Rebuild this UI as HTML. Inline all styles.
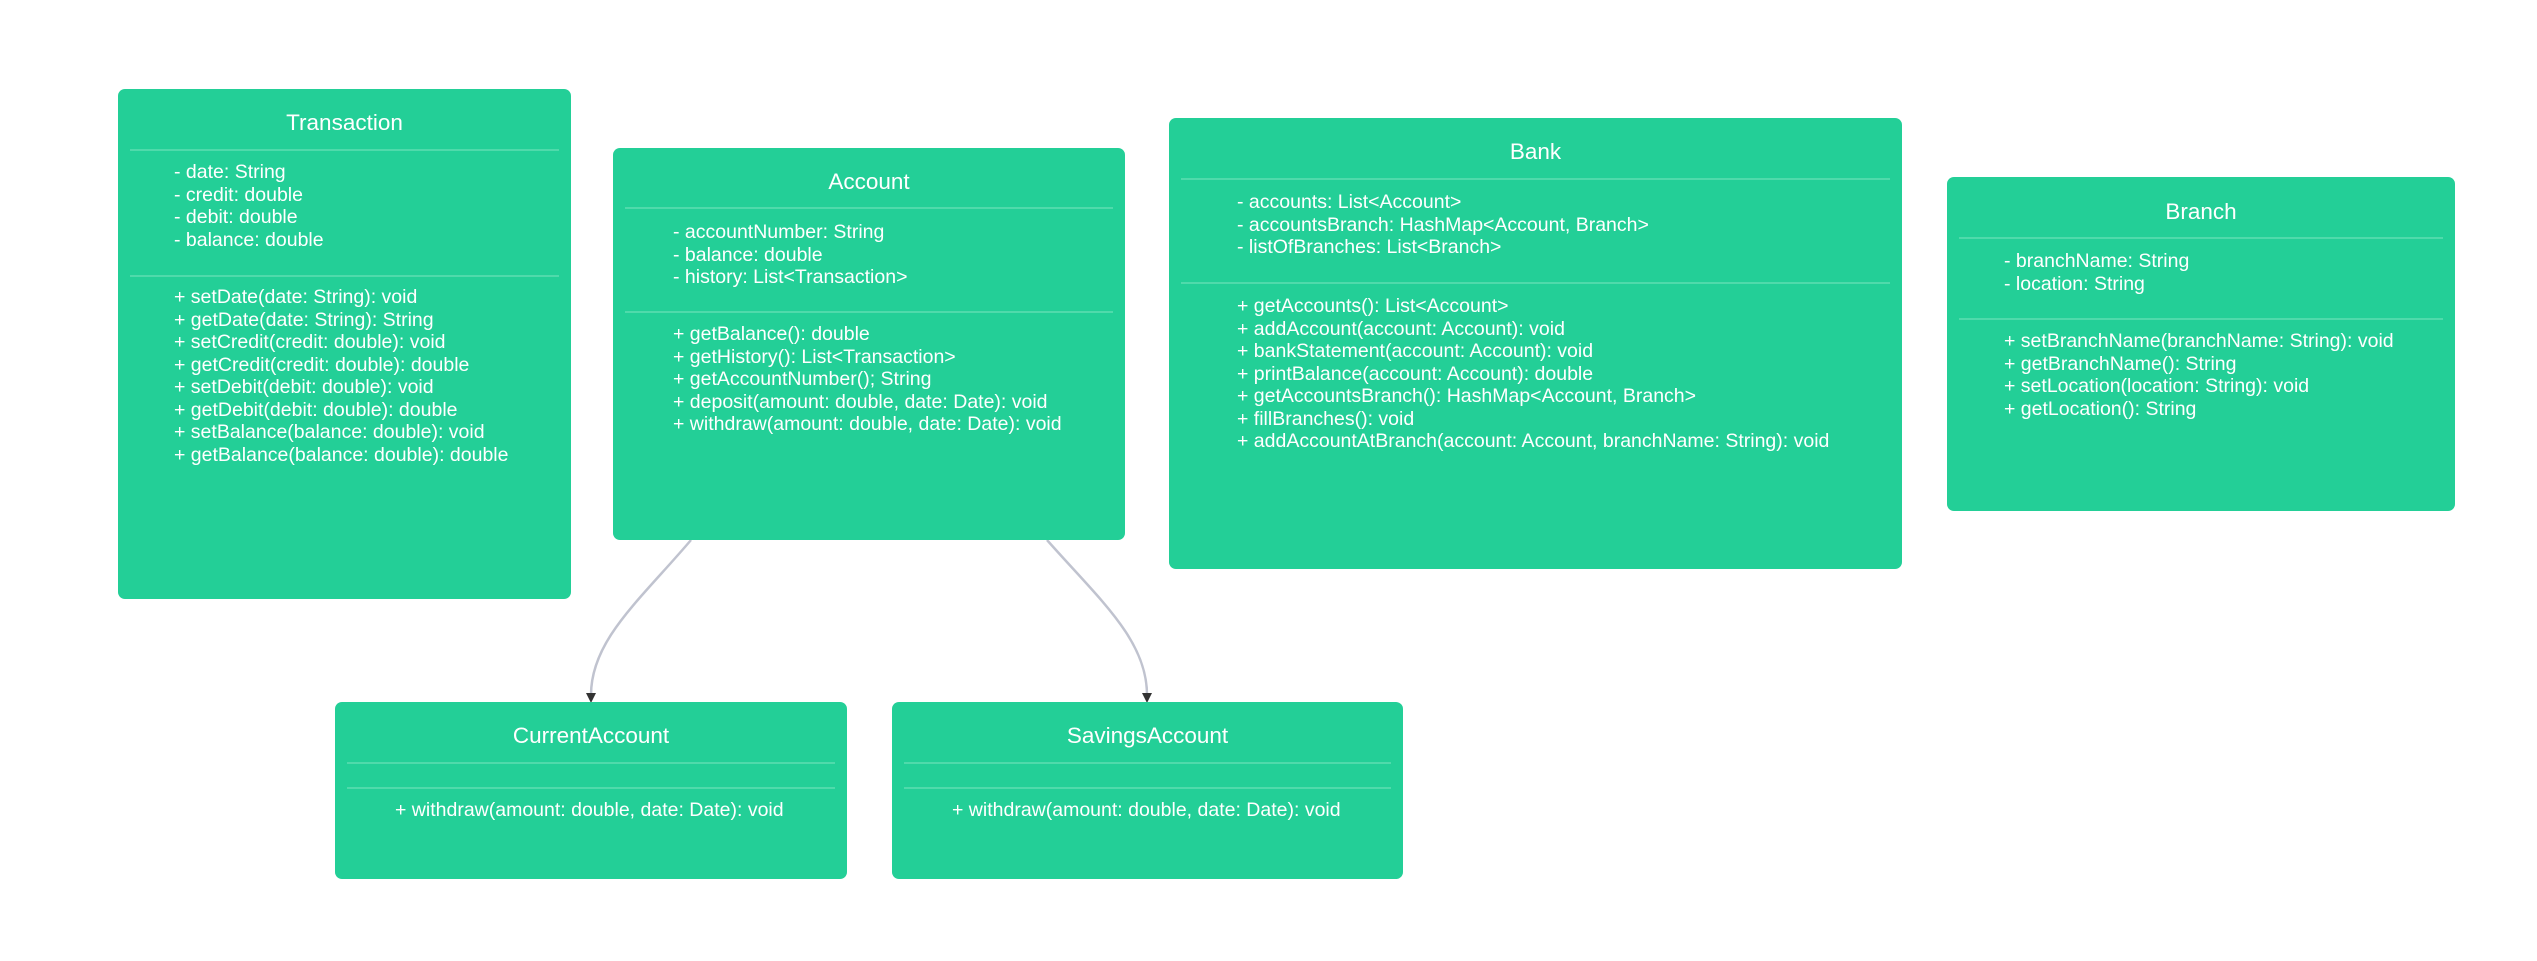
<!DOCTYPE html>
<html><head><meta charset="utf-8"><style>
body{margin:0;width:2537px;height:961px;background:#fff;position:relative;overflow:hidden;font-family:"Liberation Sans",Arial,sans-serif;}
.b{position:absolute;background:#23cf97;border-radius:7px;color:#fff;}
.t{position:absolute;left:0;right:0;text-align:center;font-size:22.5px;line-height:24px;}
.d{position:absolute;left:12px;right:12px;height:2px;background:#4fdaab;}
.x{position:absolute;font-size:19.5px;line-height:22.5px;white-space:pre;}
</style></head><body>
<svg width="2537" height="961" style="position:absolute;left:0;top:0">
<path d="M691 540 C640 600 591 640 591 695" fill="none" stroke="#c0c3cf" stroke-width="2.5"/>
<path d="M1047 540 C1100 600 1147 640 1147 695" fill="none" stroke="#c0c3cf" stroke-width="2.5"/>
<polygon points="586,693 596,693 591,703" fill="#333"/>
<polygon points="1142,693 1152,693 1147,703" fill="#333"/>
</svg>

<div class="b" style="left:118px;top:89px;width:453px;height:510px">
<div class="t" style="top:22px">Transaction</div>
<div class="d" style="top:60px"></div>
<div class="x" style="left:56px;top:72px">- date: String
- credit: double
- debit: double
- balance: double</div>
<div class="d" style="top:186px"></div>
<div class="x" style="left:56px;top:197px">+ setDate(date: String): void
+ getDate(date: String): String
+ setCredit(credit: double): void
+ getCredit(credit: double): double
+ setDebit(debit: double): void
+ getDebit(debit: double): double
+ setBalance(balance: double): void
+ getBalance(balance: double): double</div>
</div>

<div class="b" style="left:613px;top:148px;width:512px;height:392px">
<div class="t" style="top:22px">Account</div>
<div class="d" style="top:59px"></div>
<div class="x" style="left:60px;top:73px">- accountNumber: String
- balance: double
- history: List&lt;Transaction&gt;</div>
<div class="d" style="top:163px"></div>
<div class="x" style="left:60px;top:175px">+ getBalance(): double
+ getHistory(): List&lt;Transaction&gt;
+ getAccountNumber(); String
+ deposit(amount: double, date: Date): void
+ withdraw(amount: double, date: Date): void</div>
</div>

<div class="b" style="left:1169px;top:118px;width:733px;height:451px">
<div class="t" style="top:22px">Bank</div>
<div class="d" style="top:60px"></div>
<div class="x" style="left:68px;top:73px">- accounts: List&lt;Account&gt;
- accountsBranch: HashMap&lt;Account, Branch&gt;
- listOfBranches: List&lt;Branch&gt;</div>
<div class="d" style="top:164px"></div>
<div class="x" style="left:68px;top:177px">+ getAccounts(): List&lt;Account&gt;
+ addAccount(account: Account): void
+ bankStatement(account: Account): void
+ printBalance(account: Account): double
+ getAccountsBranch(): HashMap&lt;Account, Branch&gt;
+ fillBranches(): void
+ addAccountAtBranch(account: Account, branchName: String): void</div>
</div>

<div class="b" style="left:1947px;top:177px;width:508px;height:334px">
<div class="t" style="top:23px">Branch</div>
<div class="d" style="top:60px"></div>
<div class="x" style="left:57px;top:73px">- branchName: String
- location: String</div>
<div class="d" style="top:141px"></div>
<div class="x" style="left:57px;top:153px">+ setBranchName(branchName: String): void
+ getBranchName(): String
+ setLocation(location: String): void
+ getLocation(): String</div>
</div>

<div class="b" style="left:335px;top:702px;width:512px;height:177px">
<div class="t" style="top:22px">CurrentAccount</div>
<div class="d" style="top:60px"></div>
<div class="d" style="top:85px"></div>
<div class="x" style="left:60px;top:97px">+ withdraw(amount: double, date: Date): void</div>
</div>

<div class="b" style="left:892px;top:702px;width:511px;height:177px">
<div class="t" style="top:22px">SavingsAccount</div>
<div class="d" style="top:60px"></div>
<div class="d" style="top:85px"></div>
<div class="x" style="left:60px;top:97px">+ withdraw(amount: double, date: Date): void</div>
</div>
</body></html>
